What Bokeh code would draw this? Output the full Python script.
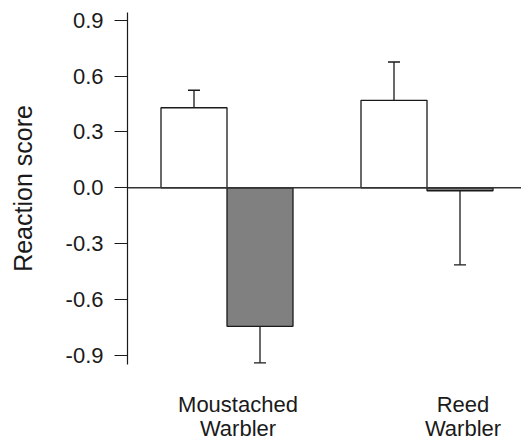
from bokeh.plotting import figure
from bokeh.models import (ColumnDataSource, Span, Whisker, TeeHead, LinearAxis,
                          FixedTicker, PrintfTickFormatter, Range1d)
from bokeh.embed import file_html
from bokeh.resources import INLINE

# ---- data ----
species = ["Moustached Warbler", "Reed Warbler"]
white_vals = [0.43, 0.47]
white_err = [0.094, 0.206]
grey_vals = [-0.745, -0.016]
grey_err = [0.196, 0.398]
y_ticks = [-0.9, -0.6, -0.3, 0.0, 0.3, 0.6, 0.9]

# ---- layout constants ----
group_pos = [1.0, 2.0]
bar_w = 0.33
label_pos = [1.055, 2.18]
FONT = "Liberation Sans"
INK = "#1a1a1a"

xw = [g - bar_w / 2 for g in group_pos]
xg = [g + bar_w / 2 for g in group_pos]

src_w = ColumnDataSource(dict(x=xw, top=white_vals,
                              up=[v + e for v, e in zip(white_vals, white_err)]))
src_g = ColumnDataSource(dict(x=xg, top=grey_vals,
                              lo=[v - e for v, e in zip(grey_vals, grey_err)]))

p = figure(width=521, height=443, output_backend="svg", toolbar_location=None,
           x_range=Range1d(0.5025, 2.4725), y_range=Range1d(-0.95, 0.942),
           x_axis_location=None, min_border_left=127, min_border_right=0,
           min_border_top=12, min_border_bottom=78)
p.outline_line_color = None
p.xgrid.visible = False
p.ygrid.visible = False
p.background_fill_color = "white"

p.vbar(x="x", top="top", bottom=0, width=bar_w, source=src_w,
       fill_color="white", line_color=INK, line_width=1.3)
p.vbar(x="x", top="top", bottom=0, width=bar_w, source=src_g,
       fill_color="#808080", line_color=INK, line_width=1.3)

p.add_layout(Whisker(base="x", upper="up", lower="top", source=src_w,
                     line_color=INK, line_width=1.3, lower_head=None,
                     upper_head=TeeHead(size=12, line_color=INK, line_width=1.3)))
p.add_layout(Whisker(base="x", upper="top", lower="lo", source=src_g,
                     line_color=INK, line_width=1.3, upper_head=None,
                     lower_head=TeeHead(size=12, line_color=INK, line_width=1.3)))

p.add_layout(Span(location=0, dimension="width", line_color="#333333", line_width=1.3))

yax = p.yaxis[0]
yax.ticker = FixedTicker(ticks=y_ticks)
yax.formatter = PrintfTickFormatter(format="%.1f")
yax.minor_tick_line_color = None
yax.major_tick_in = 0
yax.major_tick_out = 13
yax.major_tick_line_color = INK
yax.major_tick_line_width = 1.2
yax.axis_line_color = INK
yax.axis_line_width = 1.2
yax.major_label_text_font = FONT
yax.major_label_text_font_size = "22px"
yax.major_label_text_color = INK
yax.major_label_standoff = 11
yax.axis_label = "Reaction score"
yax.axis_label_text_font = FONT
yax.axis_label_text_font_size = "25px"
yax.axis_label_text_font_style = "normal"
yax.axis_label_text_color = INK
yax.axis_label_standoff = 26

# category labels: two x axes (one per text line) without line or ticks
line1 = [s.split(" ")[0] for s in species]
line2 = [s.split(" ")[1] for s in species]
for words, standoff in ((line1, 27), (line2, -4)):
    ax = LinearAxis(ticker=FixedTicker(ticks=label_pos))
    ax.major_label_overrides = dict(zip(label_pos, words))
    ax.axis_line_color = None
    ax.major_tick_line_color = None
    ax.minor_tick_line_color = None
    ax.major_tick_in = 0
    ax.major_tick_out = 0
    ax.major_label_standoff = standoff
    ax.major_label_text_font = FONT
    ax.major_label_text_font_size = "22px"
    ax.major_label_text_color = INK
    ax.major_label_text_align = "center"
    p.add_layout(ax, "below")

open("out.html", "w").write(file_html(p, INLINE))
